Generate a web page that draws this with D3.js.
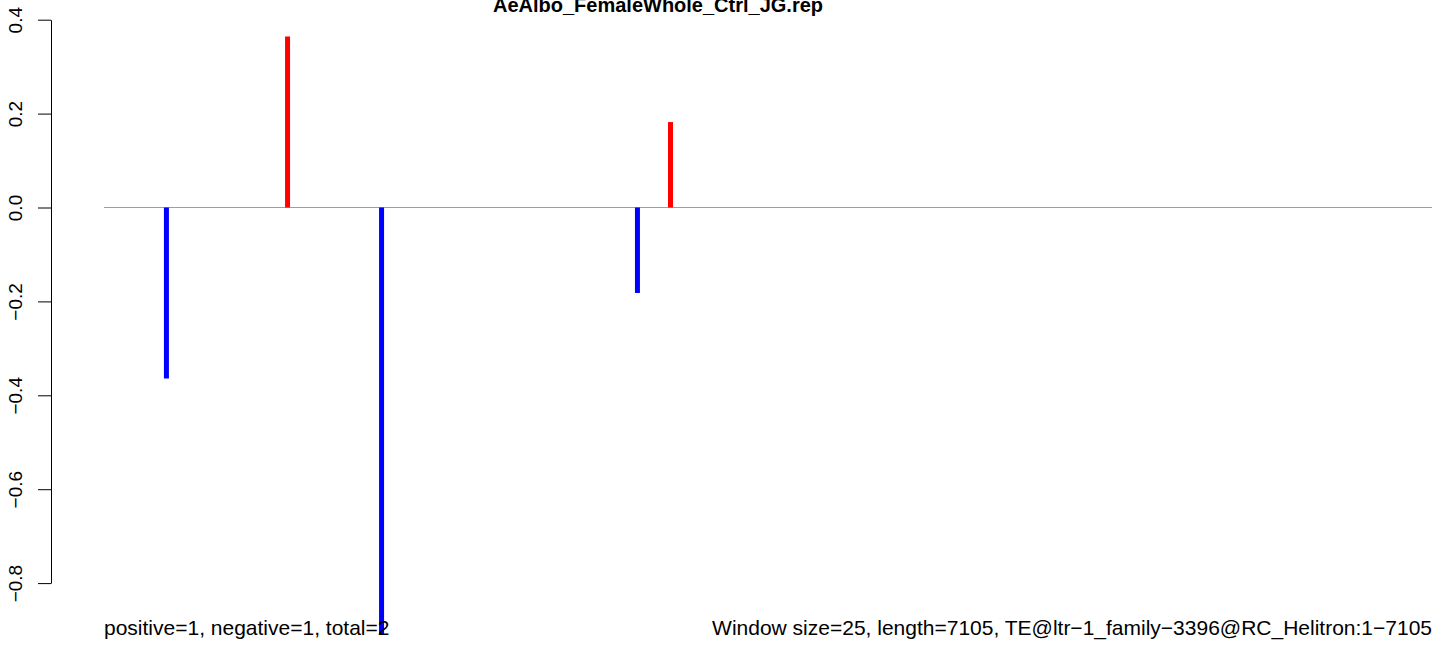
<!DOCTYPE html>
<html>
<head>
<meta charset="utf-8">
<script src="https://cdn.jsdelivr.net/npm/d3@7"></script>
<style>
  html, body { margin: 0; padding: 0; background: #fff; }
  svg { display: block; font-family: "Liberation Sans", Arial, Helvetica, sans-serif; }
</style>
</head>
<body>
<svg id="chart" width="1444" height="646"></svg>
<script>
const title = "AeAlbo_FemaleWhole_Ctrl_JG.rep";
const leftNote = "positive=1, negative=1, total=2";
const rightNote = "Window size=25, length=7105, TE@ltr\u22121_family\u22123396@RC_Helitron:1\u22127105";
const seqLength = 7105;
const positions = [334, 982, 1485, 2854, 3031];
const values = [-0.364, 0.364, -0.909, -0.182, 0.182];
const yTicks = [-0.8, -0.6, -0.4, -0.2, 0.0, 0.2, 0.4];

const svg = d3.select("#chart");
const x = d3.scaleLinear().domain([0, seqLength]).range([104, 1432]);
const y = d3.scaleLinear().domain([-0.8, 0.4]).range([583.1, 19.7]);

// baseline
svg.append("line")
  .attr("x1", x(0)).attr("x2", x(seqLength))
  .attr("y1", y(0)).attr("y2", y(0))
  .attr("stroke", "#9e9e9e").attr("stroke-width", 1.2);

// bars
svg.selectAll("line.bar").data(positions).enter().append("line")
  .attr("class", "bar")
  .attr("x1", d => x(d)).attr("x2", d => x(d))
  .attr("y1", y(0)).attr("y2", (d, i) => y(values[i]))
  .attr("stroke", (d, i) => values[i] >= 0 ? "#ff0000" : "#0000ff")
  .attr("stroke-width", 5);

// y axis
const axis = d3.axisLeft(y).tickValues(yTicks).tickSize(13).tickSizeOuter(0)
  .tickFormat(d3.format(".1f"));
const g = svg.append("g").attr("transform", "translate(51,0)").call(axis);
g.select(".domain").attr("stroke", "#000").attr("stroke-width", 1);
g.selectAll(".tick line").attr("stroke", "#000").attr("stroke-width", 1);
g.selectAll(".tick text")
  .attr("x", null).attr("dy", null)
  .attr("text-anchor", "middle")
  .attr("transform", "translate(-29,0) rotate(-90)")
  .attr("fill", "#000")
  .style("font-size", "19px")
  .style("font-family", "Liberation Sans, Arial, sans-serif");

// title
svg.append("text")
  .attr("x", 658).attr("y", 12)
  .attr("text-anchor", "middle")
  .style("font-weight", "bold").style("font-size", "20px")
  .text(title);

// bottom notes
svg.append("text")
  .attr("x", 104).attr("y", 635)
  .style("font-size", "21px")
  .text(leftNote);
svg.append("text")
  .attr("x", 1432).attr("y", 635)
  .attr("text-anchor", "end")
  .style("font-size", "21px")
  .text(rightNote);
</script>
</body>
</html>
